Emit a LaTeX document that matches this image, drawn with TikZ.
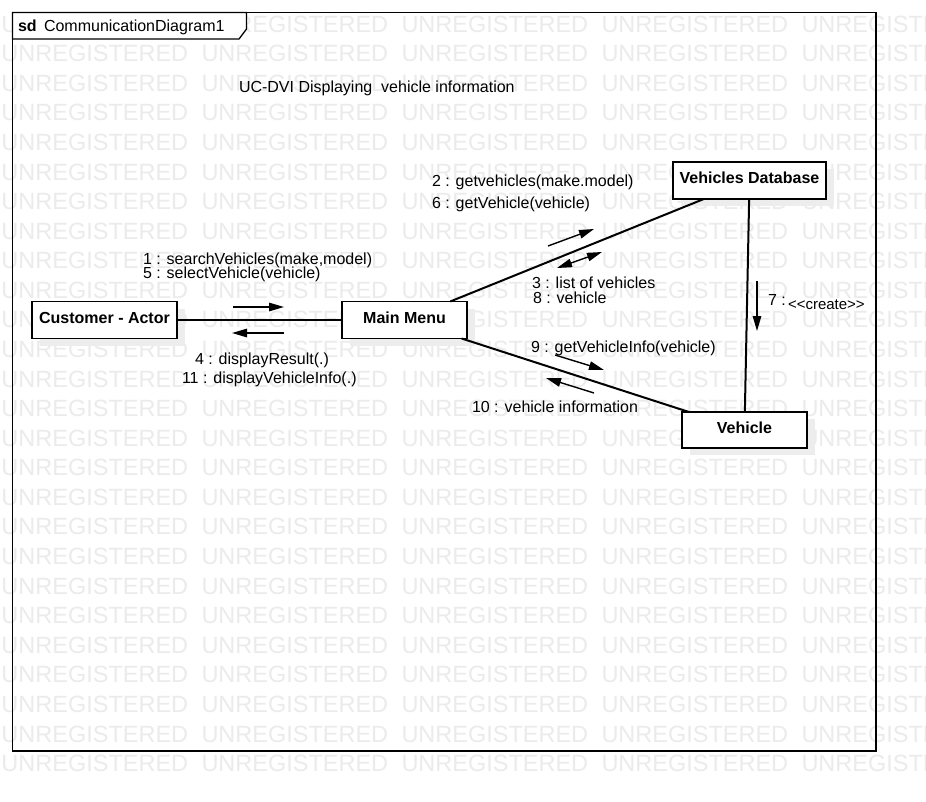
\documentclass[tikz,border=0pt]{standalone}
\usepackage{fontspec}
\setmainfont{Liberation Sans}
\usetikzlibrary{arrows.meta,shadows}

\newcommand{\txtsize}{\fontsize{16}{16}\selectfont}

\tikzset{
  every node/.style={inner sep=0pt, outer sep=0pt},
  wm/.style={anchor=base west, text=black!8, font=\fontsize{23.5}{23.5}\selectfont},
  objbox/.style={draw=black, line width=1.6pt, fill=white,
    font=\txtsize\bfseries, text height=11.5pt, text depth=5.5pt,
    drop shadow={shadow xshift=8pt, shadow yshift=-7pt, fill=black!7, opacity=1}},
  conn/.style={draw=black, line width=2pt},
  msg/.style={draw=black, line width=1.4pt, -{Triangle[length=15pt,width=8.5pt]}},
  bimsg/.style={draw=black, line width=1.4pt,
    {Triangle[length=15pt,width=8.5pt]}-{Triangle[length=15pt,width=8.5pt]}},
  lbl/.style={anchor=base west, font=\txtsize},
}

\begin{document}
\begin{tikzpicture}[x=1pt, y=-1pt]
\useasboundingbox (0,0) rectangle (926,801);
\fill[white] (0,0) rectangle (926,801);

% background watermark rows
\begin{scope}
  \clip (0,0) rectangle (926,801);
  \foreach \k in {0,...,25}{
    \foreach \j in {0,...,4}{
      \node[wm] at ({1.5+200*\j},{32.1+29.58*\k}) {UNREGISTERED};
    }
  }
\end{scope}

% diagram frame and its name tab
\draw[line width=1.5pt] (12.5,12.5) rectangle (876,751);
\draw[line width=1.3pt, fill=white] (12.5,12.5) -- (246.5,12.5) -- (246.5,29)
  -- (239,39) -- (12.5,39) -- cycle;
\node[lbl, font=\txtsize\bfseries] (sdkw) at (18,31) {sd};
\node[lbl] (sdname) at (44,31) {CommunicationDiagram1};

% heading
\node[lbl] (heading) at (239,92.5) {UC-DVI Displaying~ vehicle information};

% objects
\node[objbox, minimum width=145pt, minimum height=37pt] (cust) at (104.5,320) {Customer - Actor};
\node[objbox, minimum width=125pt, minimum height=37pt] (mm)   at (404.5,320) {Main Menu};
\node[objbox, minimum width=153pt, minimum height=37pt] (vdb)  at (749.5,180.5) {Vehicles Database};
\node[objbox, minimum width=125pt, minimum height=36pt] (veh)  at (744.5,430)   {Vehicle};

% links
\draw[conn] (cust) -- (mm);
\draw[conn] (mm) -- (vdb);
\draw[conn] (mm) -- (veh);
\draw[conn] (vdb) -- (veh);

% message arrow end points
\coordinate (m1s) at (233,307);   \coordinate (m1e) at (284,307);
\coordinate (m4s) at (284,333);   \coordinate (m4e) at (232,333);
\coordinate (m2s) at (548,246);   \coordinate (m2e) at (594,229);
\coordinate (m3s) at (557,268);   \coordinate (m3e) at (602,252);
\coordinate (m7s) at (757,281);   \coordinate (m7e) at (757,331);
\coordinate (m9s) at (555,355);   \coordinate (m9e) at (604,370);
\coordinate (m10s) at (594,393);  \coordinate (m10e) at (546,378);

% message arrows
\draw[msg] (m1s) -- (m1e);
\draw[msg] (m4s) -- (m4e);
\draw[msg] (m2s) -- (m2e);
\draw[bimsg] (m3s) -- (m3e);
\draw[msg] (m7s) -- (m7e);
\draw[msg] (m9s) -- (m9e);
\draw[msg] (m10s) -- (m10e);

% message labels
\node[lbl] (l1)  at (143,264.3) {1 : searchVehicles(make,model)};
\node[lbl] (l5)  at (143,278.3) {5 : selectVehicle(vehicle)};
\node[lbl] (l4)  at (195,364)   {4 : displayResult(.)};
\node[lbl] (l11) at (182,383.3) {11 : displayVehicleInfo(.)};
\node[lbl] (l2)  at (432,186)   {2 : getvehicles(make.model)};
\node[lbl] (l6)  at (432,208)   {6 : getVehicle(vehicle)};
\node[lbl] (l3)  at (532,288.3) {3 : list of vehicles};
\node[lbl] (l8)  at (533,303.3) {8 : vehicle};
\node[lbl] (l7)  at (768,305)   {7 :};
\node[lbl, font=\fontsize{15}{15}\selectfont] (l7s) at (788,309.3) {<\kern0pt<create>\kern0pt>};
\node[lbl] (l9)  at (531,352.7) {9 : getVehicleInfo(vehicle)};
\node[lbl] (l10) at (472,412.7) {10 : vehicle information};
\end{tikzpicture}
\end{document}
